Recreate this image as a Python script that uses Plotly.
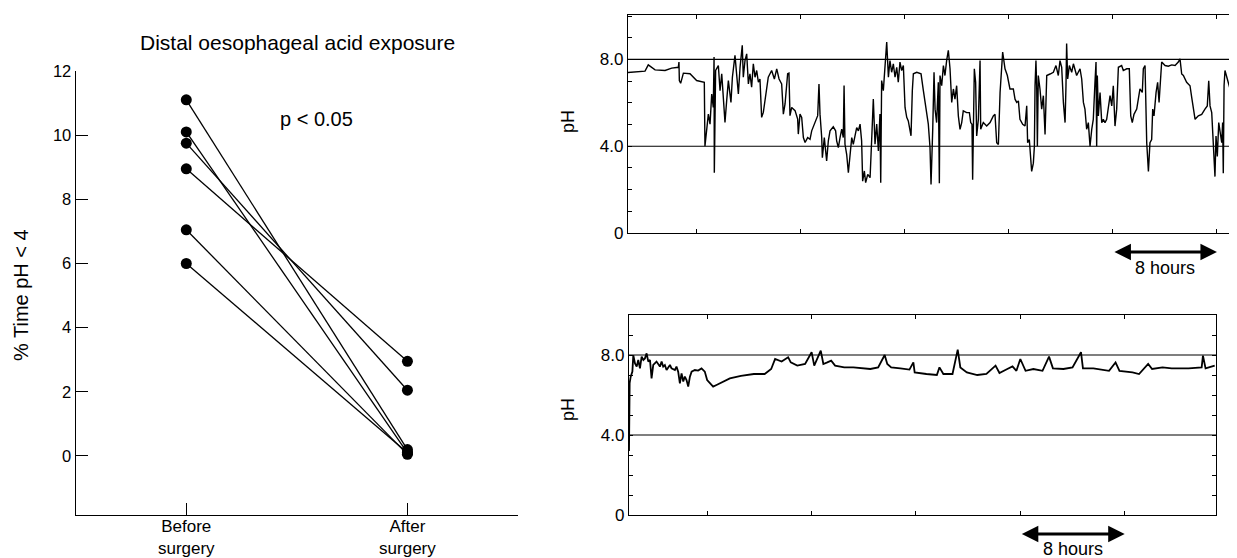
import plotly.graph_objects as go

# ---------------- data ----------------
groups = ["Before<br>surgery", "After<br>surgery"]
before_surgery = [11.1, 10.1, 9.75, 8.95, 7.05, 6.0]
after_surgery = [0.2, 0.1, 2.05, 2.95, 0.05, 0.1]
y_ticks_left = [0, 2, 4, 6, 8, 10, 12]

# pH recordings: (hours, pH)
top_trace = [(0.00,7.40),(1.31,7.46),(1.56,7.75),(2.08,7.52),(2.85,7.49),(3.36,7.60),(3.87,7.64),(3.92,7.88),(3.95,7.03),(4.05,6.90),(4.26,7.37),(4.77,7.34),(5.28,7.03),(5.87,6.95),(5.92,4.00),(6.05,4.71),(6.18,5.48),(6.31,5.02),(6.44,6.41),(6.56,5.79),(6.62,8.11),(6.64,2.78),(6.74,7.49),(6.95,7.72),(7.08,6.56),(7.21,7.34),(7.33,6.10),(7.46,5.10),(7.59,6.10),(7.72,7.03),(7.92,6.02),(8.03,7.18),(8.23,8.19),(8.36,7.18),(8.49,6.41),(8.62,7.64),(8.79,8.65),(8.87,7.18),(9.00,7.95),(9.13,8.26),(9.26,6.87),(9.38,7.34),(9.51,6.72),(9.64,7.80),(9.77,7.18),(9.90,7.49),(10.03,6.95),(10.15,7.10),(10.28,5.33),(10.41,5.56),(10.54,6.10),(10.79,7.18),(11.05,7.49),(11.26,7.10),(11.44,7.57),(11.62,7.10),(11.82,6.87),(11.95,5.48),(12.08,5.95),(12.28,7.34),(12.38,7.37),(12.46,5.41),(12.59,5.79),(12.85,5.64),(13.05,5.25),(13.10,4.56),(13.23,5.48),(13.36,5.33),(13.49,4.40),(13.62,4.17),(13.82,4.40),(14.00,4.32),(14.13,4.71),(14.38,5.10),(14.59,5.41),(14.69,6.87),(14.77,5.48),(14.90,4.40),(14.95,3.47),(15.10,4.40),(15.28,3.32),(15.41,4.25),(15.54,4.71),(15.79,4.90),(15.97,4.71),(16.05,4.25),(16.18,3.94),(16.31,4.40),(16.44,4.79),(16.56,4.40),(16.62,6.80),(16.69,4.09),(16.82,3.63),(16.95,2.78),(17.08,3.78),(17.21,4.40),(17.33,4.09),(17.46,4.56),(17.59,4.86),(17.72,4.71),(17.85,5.02),(17.97,4.25),(18.05,2.39),(18.18,2.86),(18.28,2.32),(18.44,2.70),(18.62,2.55),(18.74,4.25),(18.87,6.18),(19.00,4.09),(19.13,5.02),(19.26,3.78),(19.38,5.48),(19.44,2.32),(19.51,7.03),(19.64,6.56),(19.77,7.64),(19.90,8.80),(20.03,7.18),(20.15,7.95),(20.28,7.41),(20.41,7.80),(20.54,7.18),(20.67,7.64),(20.79,6.95),(20.92,7.88),(21.05,7.49),(21.18,7.72),(21.31,5.79),(21.44,5.33),(21.56,5.17),(21.77,4.48),(21.87,6.56),(21.95,7.34),(22.21,7.41),(22.54,7.34),(22.72,6.56),(22.85,5.95),(22.97,5.56),(23.10,5.02),(23.23,3.94),(23.31,2.24),(23.44,4.78),(23.54,7.41),(23.62,5.71),(23.74,5.09),(23.87,6.95),(23.95,2.29),(24.00,7.26),(24.13,6.79),(24.26,7.72),(24.38,7.26),(24.51,7.95),(24.64,8.42),(24.77,7.57),(24.90,6.02),(25.03,6.64),(25.15,6.17),(25.28,6.79),(25.41,5.40),(25.54,4.78),(25.67,5.09),(25.79,5.63),(26.05,5.55),(26.26,5.55),(26.36,5.09),(26.46,5.01),(26.51,2.45),(26.56,4.47),(26.64,7.57),(26.74,6.95),(26.82,4.47),(26.95,5.24),(27.08,7.95),(27.13,4.78),(27.33,5.09),(27.59,4.93),(27.85,5.09),(28.10,5.40),(28.23,5.47),(28.36,4.16),(28.49,4.08),(28.62,6.48),(28.74,7.88),(28.82,8.34),(29.00,7.57),(29.18,7.26),(29.38,6.64),(29.64,6.64),(29.77,6.17),(29.90,6.02),(30.03,6.09),(30.15,5.24),(30.36,5.01),(30.54,4.93),(30.67,5.86),(30.74,4.16),(30.87,4.31),(30.92,4.00),(31.05,2.84),(31.18,3.22),(31.26,4.00),(31.31,6.79),(31.38,7.95),(31.44,6.64),(31.49,4.00),(31.56,7.26),(31.69,6.64),(31.82,5.71),(31.95,6.33),(32.08,4.54),(32.21,7.26),(32.46,7.33),(32.72,7.41),(32.92,7.72),(33.10,7.26),(33.23,7.95),(33.36,7.64),(33.49,6.02),(33.62,5.09),(33.69,6.79),(33.74,8.73),(33.82,7.10),(33.95,7.72),(34.13,7.41),(34.26,7.80),(34.51,7.26),(34.77,7.57),(34.90,7.10),(35.03,6.02),(35.15,5.71),(35.28,4.78),(35.41,5.09),(35.54,4.00),(35.67,4.78),(35.79,5.24),(35.92,6.95),(36.00,7.88),(36.05,4.00),(36.10,7.26),(36.18,5.40),(36.31,6.48),(36.44,5.09),(36.56,5.24),(36.69,5.09),(36.82,5.24),(37.08,6.33),(37.21,5.86),(37.33,6.79),(37.46,4.93),(37.59,5.71),(37.72,7.64),(37.97,7.72),(38.10,7.49),(38.36,7.57),(38.56,7.57),(38.67,5.40),(38.79,5.09),(38.92,5.47),(39.13,5.71),(39.38,6.64),(39.56,6.48),(39.64,7.57),(39.77,7.72),(39.90,4.16),(40.03,2.84),(40.15,4.16),(40.28,4.31),(40.36,5.71),(40.46,5.40),(40.62,6.48),(40.74,6.95),(40.85,6.02),(40.92,6.79),(41.05,7.88),(41.31,7.72),(41.56,7.69),(41.82,7.75),(42.08,7.72),(42.33,7.88),(42.46,8.03),(42.59,7.33),(42.72,7.26),(42.97,6.95),(43.23,6.79),(43.36,6.25),(43.62,5.24),(43.87,5.40),(44.13,5.47),(44.38,5.71),(44.56,5.86),(44.67,7.02),(44.77,5.86),(44.90,5.55),(45.03,4.16),(45.15,2.60),(45.23,4.47),(45.33,3.53),(45.44,5.09),(45.54,4.62),(45.67,4.16),(45.74,5.09),(45.79,2.76),(45.85,6.79),(45.92,7.49),(46.10,7.10),(46.31,6.64),(46.44,6.79),(46.62,6.33),(46.82,5.94)]

bottom_trace = [(0.00,3.20),(0.05,6.60),(0.13,6.92),(0.26,7.17),(0.33,7.99),(0.46,7.58),(0.59,7.42),(0.71,7.75),(0.84,7.33),(0.97,7.92),(1.10,7.75),(1.22,7.83),(1.35,8.08),(1.48,7.67),(1.61,7.75),(1.73,6.83),(1.86,7.50),(2.11,7.67),(2.37,7.42),(2.50,7.67),(2.62,7.42),(2.75,7.50),(2.88,7.25),(3.14,7.50),(3.26,7.33),(3.52,7.25),(3.64,7.42),(3.77,7.17),(3.90,6.58),(4.03,7.08),(4.16,6.67),(4.28,6.92),(4.41,6.75),(4.54,6.42),(4.67,6.92),(4.80,7.17),(5.05,7.25),(5.30,7.22),(5.56,7.33),(5.81,7.17),(5.99,6.75),(6.20,6.58),(6.45,6.42),(6.71,6.50),(6.96,6.58),(7.22,6.67),(7.47,6.75),(7.73,6.83),(8.58,6.96),(9.57,7.05),(10.4,7.05),(10.9,7.30),(11.2,7.80),(11.7,7.67),(12.2,7.89),(12.4,7.63),(12.9,7.47),(13.5,7.55),(14.0,8.14),(14.2,7.47),(14.7,8.22),(14.9,7.55),(15.2,7.63),(15.5,7.72),(15.8,7.47),(16.5,7.38),(17.2,7.38),(17.8,7.33),(18.5,7.30),(19.1,7.38),(19.6,8.00),(19.8,7.55),(20.1,7.38),(20.8,7.33),(21.5,7.27),(21.8,7.63),(21.9,7.13),(22.8,7.05),(23.6,7.00),(23.8,7.38),(24.1,7.05),(24.8,7.05),(25.2,8.27),(25.4,7.38),(25.9,7.13),(26.7,7.00),(27.4,7.05),(28.1,7.47),(28.4,7.10),(29.0,7.30),(29.4,7.43),(29.7,7.21),(30.0,7.80),(30.4,7.21),(31.0,7.30),(31.7,7.21),(32.2,7.92),(32.5,7.33),(33.3,7.30),(34.0,7.38),(34.65,8.14),(34.8,7.33),(35.6,7.33),(36.8,7.21),(37.3,7.63),(37.6,7.21),(38.6,7.13),(39.1,7.05),(39.8,7.55),(40.1,7.30),(40.9,7.38),(41.6,7.33),(42.9,7.33),(43.9,7.38),(44.0,7.97),(44.2,7.33),(44.9,7.47)]

ref_levels = [4.0, 8.0]
ph_tick_vals = [0, 4, 8]
ph_tick_text = ["0", "4.0", "8.0"]
top_time_ticks = [5.3, 13.3, 21.3, 29.3, 37.3, 45.3]
bottom_time_ticks = [6, 14, 22, 30, 38]
top_arrow_hours = [37.3, 45.3]
bottom_arrow_hours = [30, 38]
top_hours_span = [0, 47.46]
bottom_hours_span = [0, 45]

# ---------------- figure ----------------
FONT = "Liberation Sans, Arial, Helvetica, sans-serif"
W, H = 1237, 558
OFF = 8  # page body margin in the browser


def fx(px):
    return (px - OFF) / W


def fy(px):
    return 1 - (px - OFF) / H


fig = go.Figure()

for b, a in zip(before_surgery, after_surgery):
    fig.add_trace(go.Scatter(
        x=[0, 1], y=[b, a], mode="lines+markers",
        line=dict(color="black", width=1.3),
        marker=dict(color="black", size=11),
        xaxis="x", yaxis="y", showlegend=False, hoverinfo="skip"))

fig.add_trace(go.Scatter(
    x=[p[0] for p in top_trace], y=[p[1] for p in top_trace],
    mode="lines", line=dict(color="black", width=1.4),
    xaxis="x2", yaxis="y2", showlegend=False))
fig.add_trace(go.Scatter(
    x=[p[0] for p in bottom_trace], y=[p[1] for p in bottom_trace],
    mode="lines", line=dict(color="black", width=1.8),
    xaxis="x3", yaxis="y3", showlegend=False))

for xa, ya, span in (("x2", "y2", top_hours_span), ("x3", "y3", bottom_hours_span)):
    for lvl in ref_levels:
        fig.add_shape(type="line", xref=xa, yref=ya, x0=span[0], x1=span[1],
                      y0=lvl, y1=lvl, line=dict(color="black", width=1.2))

axis_common = dict(showgrid=False, zeroline=False, showline=True, automargin=False,
                   linecolor="black", linewidth=1.3)

ph_y = dict(axis_common, range=[0, 10.05], tickvals=ph_tick_vals, ticktext=ph_tick_text,
            ticks="inside", ticklen=4, tickcolor="black",
            minor=dict(dtick=1, ticks="inside", ticklen=4, tickcolor="black"),
            tickfont=dict(size=17, color="black", family=FONT))

fig.update_layout(
    width=W, height=H,
    margin=dict(l=0, r=0, t=0, b=0, pad=0),
    paper_bgcolor="white", plot_bgcolor="white",
    font=dict(family=FONT, color="black"),
    xaxis=dict(axis_common, domain=[fx(75.7), fx(518)], range=[-0.5, 1.5],
               tickvals=[0, 1], ticktext=groups, ticks="inside", ticklen=12,
               ticklabelstandoff=-5,
               tickcolor="black", tickfont=dict(size=17, color="black")),
    yaxis=dict(axis_common, domain=[fy(515), fy(71)], range=[-1.84, 12],
               tickvals=y_ticks_left, ticks="inside", ticklen=12,
               tickcolor="black", tickfont=dict(size=16.5, color="black")),
    xaxis2=dict(axis_common, domain=[fx(628), 1.0], range=top_hours_span,
                tickvals=top_time_ticks, ticks="inside", ticklen=4,
                tickcolor="black", showticklabels=False, mirror="ticks",
                anchor="y2"),
    yaxis2=dict(ph_y, domain=[fy(233), fy(15)], anchor="x2"),
    xaxis3=dict(axis_common, domain=[fx(629), fx(1216)], range=bottom_hours_span,
                tickvals=bottom_time_ticks, ticks="inside", ticklen=4,
                tickcolor="black", showticklabels=False, mirror="ticks",
                anchor="y3"),
    yaxis3=dict(ph_y, domain=[fy(515), fy(315)], range=[0, 10], anchor="x3",
                mirror="ticks"),
)

ann = []
ann.append(dict(text="Distal oesophageal acid exposure", xref="paper", yref="paper",
                x=fx(297), y=fy(42), xanchor="center", yanchor="middle",
                showarrow=False, font=dict(size=21, color="black")))
ann.append(dict(text="p < 0.05", xref="x", yref="y", x=0.59, y=10.5,
                xanchor="center", yanchor="middle",
                showarrow=False, font=dict(size=20, color="black")))
ann.append(dict(text="% Time pH < 4", xref="paper", yref="paper",
                x=fx(21), y=fy(295), xanchor="center", yanchor="middle",
                textangle=-90, showarrow=False, font=dict(size=20, color="black")))
for yc in (122, 410):
    ann.append(dict(text="pH", xref="paper", yref="paper", x=fx(568),
                    y=fy(yc), xanchor="center", yanchor="middle",
                    textangle=-90, showarrow=False,
                    font=dict(size=18, color="black")))

for xa, span, ya_px, yt_px in (("x2", top_arrow_hours, 252, 268),
                               ("x3", bottom_arrow_hours, 534, 549)):
    ann.append(dict(text="", xref=xa, yref="paper", x=span[1], y=fy(ya_px),
                    axref=xa, ax=span[0], ayref="pixel", ay=0,
                    showarrow=True, arrowside="end+start", arrowhead=2,
                    arrowsize=1.1, arrowwidth=3, arrowcolor="black"))
    ann.append(dict(text="8 hours", xref=xa, yref="paper",
                    x=(span[0] + span[1]) / 2, y=fy(yt_px),
                    xanchor="center", yanchor="middle",
                    showarrow=False, font=dict(size=18, color="black")))

fig.update_layout(annotations=ann)
fig.write_html("out.html")
